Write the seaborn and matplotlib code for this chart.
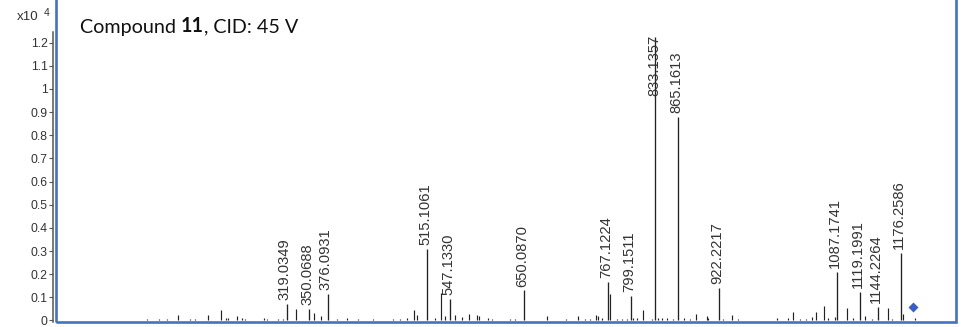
import matplotlib
matplotlib.use("Agg")
import matplotlib.pyplot as plt
from matplotlib import font_manager
from matplotlib.patches import Rectangle
from matplotlib.lines import Line2D
import seaborn as sns
import pandas as pd

# Annotated fragment ions (m/z, relative intensity in units of 1e4 counts)
labelled_mz = [319.0349, 350.0688, 376.0931, 515.1061, 547.1330, 650.0870,
               767.1224, 799.1511, 833.1357, 865.1613, 922.2217, 1087.1741,
               1119.1991, 1144.2264, 1176.2586]
labelled_int = [0.073, 0.051, 0.115, 0.31, 0.095, 0.13,
                0.165, 0.107, 1.225, 0.88, 0.14, 0.21,
                0.125, 0.06, 0.29]

# Minor, unannotated ions
minor_mz = [123.2, 140.8, 151.1, 166.4, 183.6, 190.6, 209.2, 227.0, 234.0, 237.1,
            248.8, 255.8, 260.4, 287.4, 290.7, 306.9, 313.9, 331.6, 357.1, 366.5,
            388.4, 402.4, 418.6, 439.5, 448.9, 467.4, 476.8, 486.1, 496.3, 500.1,
            525.6, 534.0, 539.6, 553.6, 562.9, 573.5, 583.9, 587.5, 600.1, 604.8,
            630.4, 637.3, 667.6, 682.4, 708.5, 725.7, 735.1, 742.1, 750.4, 753.6,
            758.4, 770.0, 779.3, 786.3, 793.3, 802.6, 807.3, 815.6, 828.2, 837.4,
            842.1, 849.1, 858.3, 873.3, 881.6, 890.0, 904.9, 907.2, 928.2, 939.8,
            949.1, 960.8, 986.4, 992.3, 1003.5, 1018.9, 1025.0, 1035.2, 1043.2, 1051.5,
            1057.5, 1069.2, 1074.8, 1084.1, 1101.2, 1109.6, 1125.9, 1135.2, 1157.6, 1163.2,
            1179.6, 1195.4]
minor_int = [0.005, 0.008, 0.006, 0.022, 0.008, 0.008, 0.022, 0.045, 0.012, 0.010,
             0.018, 0.010, 0.006, 0.012, 0.006, 0.005, 0.008, 0.050, 0.032, 0.020,
             0.006, 0.010, 0.006, 0.005, 0.004, 0.008, 0.006, 0.010, 0.045, 0.025,
             0.010, 0.120, 0.020, 0.025, 0.015, 0.030, 0.025, 0.020, 0.012, 0.008,
             0.006, 0.005, 0.004, 0.020, 0.006, 0.020, 0.006, 0.008, 0.025, 0.020,
             0.010, 0.115, 0.005, 0.006, 0.006, 0.012, 0.010, 0.045, 0.005, 0.012,
             0.010, 0.010, 0.006, 0.010, 0.006, 0.030, 0.018, 0.012, 0.008, 0.025,
             0.005, 0.004, 0.004, 0.004, 0.010, 0.012, 0.038, 0.008, 0.008, 0.015,
             0.035, 0.062, 0.010, 0.015, 0.052, 0.010, 0.020, 0.006, 0.052, 0.008,
             0.030, 0.012]

# Precursor ion marker
precursor_mz = [1193.6]
precursor_int = [0.058]

ytick_vals = [0, 0.1, 0.2, 0.3, 0.4, 0.5, 0.6, 0.7, 0.8, 0.9, 1.0, 1.1, 1.2]
ytick_text = ["0", "0.1", "0.2", "0.3", "0.4", "0.5", "0.6", "0.7", "0.8", "0.9", "1", "1.1", "1.2"]

sns.set_theme(style="white")
installed = {f.name for f in font_manager.fontManager.ttflist}
num_font = ["Liberation Sans", "DejaVu Sans"]
title_font = ["Liberation Sans Narrow" if "Liberation Sans Narrow" in installed else "Lato", "DejaVu Sans"]
plt.rcParams["font.family"] = num_font

BLUE = "#4472C4"
INK = "#222222"
W, H = 965, 327

fig = plt.figure(figsize=(W / 100, H / 100), dpi=100)
fig.patch.set_facecolor("white")

left_px, right_px, bottom_px, top_px = 56.2, 955.8, 322.3, -10.0
ax = fig.add_axes([left_px / W, (H - bottom_px) / H,
                   (right_px - left_px) / W, (bottom_px - top_px) / H])
ax.set_facecolor("white")

ax.set_xlim(-3.2, 1252.7)
ax.set_ylim(-0.0078, 1.4276)

# spectrum sticks
ax.vlines(minor_mz, 0, minor_int, colors=INK, linewidth=0.85)
ax.vlines(labelled_mz, 0, labelled_int, colors=INK, linewidth=0.95)

# precursor marker
prec = pd.DataFrame({"mz": precursor_mz, "intensity": precursor_int})
sns.scatterplot(data=prec, x="mz", y="intensity", marker="D", s=26,
                color="#3A5FC2", edgecolor="#3A5FC2", linewidth=0, ax=ax, zorder=5)

# peak labels
for mz, inten in zip(labelled_mz, labelled_int):
    if inten > 1.0:
        ax.annotate(f"{mz:.4f}", xy=(mz, inten), xytext=(-0.7, 1.5),
                    textcoords="offset points", rotation=90, ha="center",
                    va="top", fontsize=10.6, color="#333333")
    else:
        ax.annotate(f"{mz:.4f}", xy=(mz, inten), xytext=(-1.5, 2.8),
                    textcoords="offset points", rotation=90, ha="center",
                    va="bottom", fontsize=10.6, color="#333333")

# axes styling
for side in ["top", "right", "bottom"]:
    ax.spines[side].set_visible(False)
ax.spines["left"].set_position(("outward", 2.2))
ax.spines["left"].set_color("#555555")
ax.spines["left"].set_linewidth(1.1)
ax.spines["left"].set_bounds(-0.006, 1.245)
ax.set_xticks([])
ax.set_yticks(ytick_vals)
ax.set_yticklabels(ytick_text)
ax.tick_params(axis="y", direction="out", length=2.6, width=0.8, color="#555555",
               labelsize=8.8, labelcolor="#333333", pad=1.2, left=True)
ax.set_xlabel("")
ax.set_ylabel("")
ax.grid(False)

# blue frame around the plot area
frame = Rectangle((0, 0), 1, 1, transform=ax.transAxes, fill=False,
                  edgecolor=BLUE, linewidth=1.9, clip_on=False, zorder=6)
ax.add_patch(frame)
fig.add_artist(Line2D([55 / W, 955.5 / W], [(H - 326.5) / H] * 2,
                      transform=fig.transFigure, color="#8FA9DC", linewidth=0.8))

# exponent label
fig.text(16.5 / W, (H - 20.5) / H, "x10", fontsize=9.6, color="#333333",
         ha="left", va="baseline")
fig.text(43.5 / W, (H - 16) / H, "4", fontsize=7.6, color="#333333",
         ha="left", va="baseline")

# title with bold compound number
fig.canvas.draw()
renderer = fig.canvas.get_renderer()
tx, ty = 80 / W, (H - 32.5) / H
parts = [("Compound ", "normal"), ("11", "bold"), (", CID: 45 V", "normal")]
for txt, wt in parts:
    t = fig.text(tx, ty, txt, fontsize=14.2, fontweight=wt, family=title_font,
                 color="#111111", ha="left", va="baseline")
    bb = t.get_window_extent(renderer=renderer)
    tx += bb.width / W

fig.savefig("out.png", dpi=100, facecolor="white")
